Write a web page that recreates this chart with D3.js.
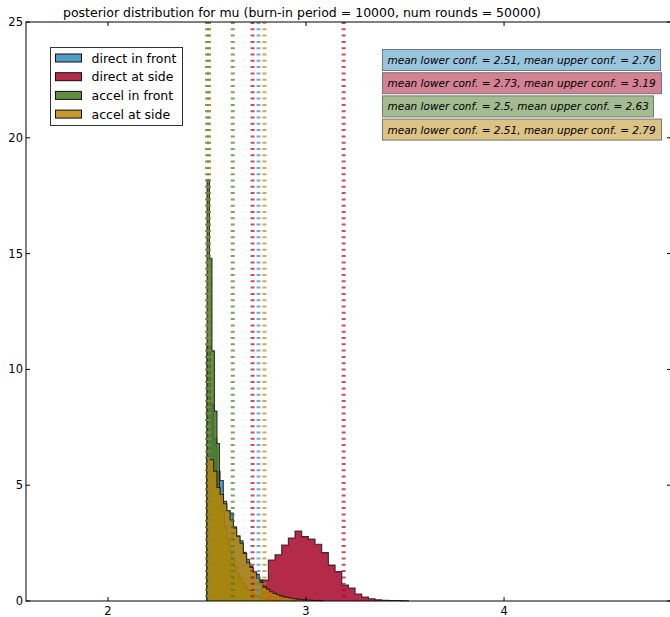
<!DOCTYPE html>
<html>
<head>
<meta charset="utf-8">
<script src="https://cdn.jsdelivr.net/npm/d3@7"></script>
<style>
body { margin: 0; background: #fff; }
svg text { font-family: "DejaVu Sans", sans-serif; fill: #000; }
</style>
</head>
<body>
<div id="svg-container"></div>
<script>
// series (legend order = draw order)
var names = ["direct in front", "direct at side", "accel in front", "accel at side"];
var colors = ["#348ABD", "#A60628", "#467821", "#B8860B"];

// histogram bins: first edge, bin width, densities
var binStart = [2.5, 2.776, 2.5, 2.5];
var binWidth = [0.0165, 0.0337, 0.0126, 0.0167];
var directFront = [11, 8.5, 7.0, 5.6, 5.2, 4.3, 3.9, 3.8, 3.2, 2.8, 2.6, 2.1, 1.8, 1.5, 1.25, 1.15, 0.9, 0.6, 0.4, 0.28, 0.18, 0.12, 0.08, 0.05, 0.03, 0.02, 0.01];
var directSide = [0.9, 1.77, 2.0, 2.42, 2.72, 3.02, 2.78, 2.67, 2.45, 2.09, 1.55, 1.27, 0.69, 0.56, 0.30, 0.17, 0.10, 0.05, 0.03, 0.02, 0.02, 0.01];
var accelFront = [18.2, 14.8, 10.8, 8.2, 6.8, 4.5, 3.9, 3.2, 2.7, 2.2, 1.8, 1.5, 1.2, 1.0, 0.8, 0.65, 0.5, 0.4, 0.32, 0.25, 0.2, 0.15, 0.12, 0.09, 0.07, 0.05, 0.04, 0.03, 0.02];
var accelSide = [6.2, 6.1, 5.6, 4.9, 4.6, 4.2, 3.9, 3.5, 3.15, 2.8, 2.5, 2.05, 1.65, 1.45, 1.25, 1.0, 0.8, 0.6, 0.5, 0.4, 0.33, 0.27, 0.22, 0.18, 0.15, 0.12, 0.1, 0.08, 0.06, 0.05, 0.04, 0.03, 0.02, 0.02, 0.01];
var hists = [directFront, directSide, accelFront, accelSide];

// mean lower / upper confidence bounds
var lowerConf = [2.51, 2.73, 2.5, 2.51];
var upperConf = [2.76, 3.19, 2.63, 2.79];

var xTicks = [2, 3, 4];
var yTicks = [0, 5, 10, 15, 20, 25];
var xDomain = [1.586, 4.843];
var yDomain = [0, 25];

var W = 670, H = 617;
var m = {left: 26, top: 22, right: 671, bottom: 601};

var svg = d3.select("#svg-container").append("svg")
	.attr("width", W)
	.attr("height", H);

var x = d3.scaleLinear().domain(xDomain).range([m.left, m.right]);
var y = d3.scaleLinear().domain(yDomain).range([m.bottom, m.top]);

var plot = svg.append("g").attr("class", "main");

// step-filled histograms
function stepPoints(vals, start, w) {
	var pts = [[start, 0]];
	vals.forEach(function(v, i) {
		pts.push([start + i * w, v]);
		pts.push([start + (i + 1) * w, v]);
	});
	pts.push([start + vals.length * w, 0]);
	return pts;
}

var line = d3.line()
	.x(function(d){ return x(d[0]) })
	.y(function(d){ return y(d[1]) });

hists.forEach(function(h, i) {
	plot.append("path")
		.datum(stepPoints(h, binStart[i], binWidth[i]))
		.attr("d", line)
		.attr("fill", colors[i])
		.attr("fill-opacity", 0.85)
		.attr("stroke", "#111")
		.attr("stroke-opacity", 0.8)
		.attr("stroke-width", 1.1)
		.attr("stroke-linejoin", "miter");
});

// dashed confidence lines
hists.forEach(function(h, i) {
	[lowerConf[i], upperConf[i]].forEach(function(c) {
		plot.append("line")
			.attr("x1", x(c)).attr("x2", x(c))
			.attr("y1", m.top).attr("y2", m.bottom)
			.attr("stroke", colors[i])
			.attr("stroke-width", 4)
			.attr("stroke-opacity", 0.7)
			.attr("stroke-dasharray", "2,4.3");
	});
});

// frame
svg.append("rect")
	.attr("x", m.left).attr("y", m.top)
	.attr("width", m.right - m.left).attr("height", m.bottom - m.top)
	.attr("fill", "none")
	.attr("stroke", "#000")
	.attr("stroke-width", 1);

// ticks (inward, both sides)
var tk = svg.append("g").attr("stroke", "#000").attr("stroke-width", 1);
xTicks.forEach(function(t) {
	tk.append("line").attr("x1", x(t)).attr("x2", x(t)).attr("y1", m.bottom).attr("y2", m.bottom - 4);
	tk.append("line").attr("x1", x(t)).attr("x2", x(t)).attr("y1", m.top).attr("y2", m.top + 4);
	svg.append("text")
		.attr("x", x(t)).attr("y", m.bottom + 14)
		.attr("text-anchor", "middle")
		.style("font-size", "11.5px")
		.text(t);
});
yTicks.forEach(function(t) {
	tk.append("line").attr("x1", m.left).attr("x2", m.left + 4).attr("y1", y(t)).attr("y2", y(t));
	tk.append("line").attr("x1", m.right).attr("x2", m.right - 4).attr("y1", y(t)).attr("y2", y(t));
	svg.append("text")
		.attr("x", m.left - 3).attr("y", y(t) + 4)
		.attr("text-anchor", "end")
		.style("font-size", "11.5px")
		.text(t);
});

// title
svg.append("text")
	.attr("x", 63).attr("y", 17)
	.style("font-size", "12.5px")
	.text("posterior distribution for mu (burn-in period = 10000, num rounds = 50000)");

// legend
var lg = svg.append("g");
lg.append("rect")
	.attr("x", 50.5).attr("y", 47.5).attr("width", 132).attr("height", 78)
	.attr("fill", "#fff").attr("stroke", "#333").attr("stroke-width", 1);
names.forEach(function(n, i) {
	var cy = 58 + i * 18.7;
	lg.append("rect")
		.attr("x", 55.5).attr("y", cy - 4).attr("width", 26).attr("height", 8)
		.attr("fill", colors[i]).attr("fill-opacity", 0.85)
		.attr("stroke", "#111").attr("stroke-width", 1);
	lg.append("text")
		.attr("x", 91.5).attr("y", cy + 4.5)
		.style("font-size", "12.5px")
		.text(n);
});

// confidence text boxes
var boxW = [278, 279, 271, 279];
names.forEach(function(n, i) {
	var by = 49.5 + i * 23.2;
	var g = svg.append("g");
	g.append("rect")
		.attr("x", 382.5).attr("y", by).attr("width", boxW[i]).attr("height", 21)
		.attr("fill", colors[i]).attr("fill-opacity", 0.5)
		.attr("stroke", "#777").attr("stroke-width", 1);
	g.append("text")
		.attr("x", 387.5).attr("y", by + 14.5)
		.style("font-size", "10.5px")
		.style("font-style", "italic")
		.text("mean lower conf. = " + lowerConf[i] + ", mean upper conf. = " + upperConf[i]);
});
</script>
</body>
</html>
